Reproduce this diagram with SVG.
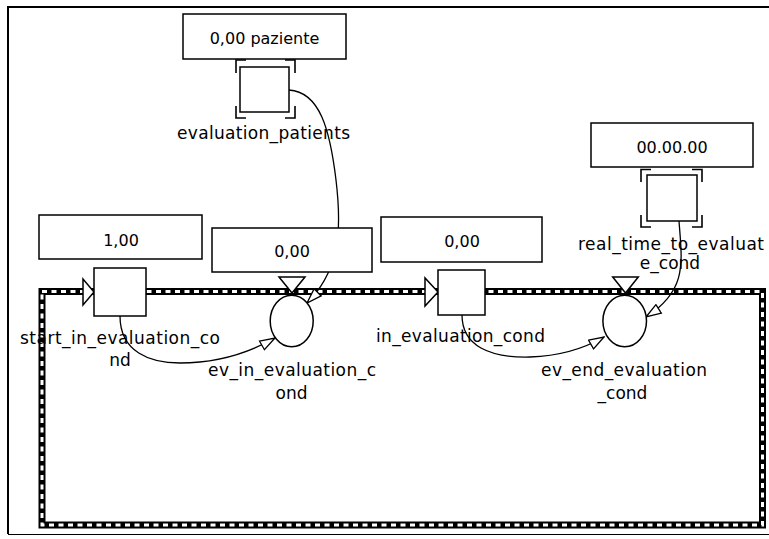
<svg xmlns="http://www.w3.org/2000/svg" width="769" height="539" viewBox="0 0 769 539">
<style>
.box{fill:#fff;stroke:#000;stroke-width:1.5}
.val{font-family:"DejaVu Sans",sans-serif;font-size:16px;fill:#000;text-anchor:middle}
.lbl{font-family:"DejaVu Sans",sans-serif;font-size:17px;fill:#000}
.mid{text-anchor:middle}
.con{fill:none;stroke:#000;stroke-width:1.3}
.brk{fill:none;stroke:#000;stroke-width:1.6}
</style>
<defs>
<marker id="ah" markerUnits="userSpaceOnUse" viewBox="0 0 17 12" refX="16" refY="6" markerWidth="17" markerHeight="12" orient="auto">
<path d="M1,1 L16,6 L1,11 Z" fill="#fff" stroke="#000" stroke-width="1.3"/>
</marker>
</defs>
<rect width="769" height="539" fill="#fff"/>
<g id="frame">
<path d="M8,534 L8,7 L769,7" fill="none" stroke="#000" stroke-width="2"/>
<path d="M8,534.5 L769,534.5" fill="none" stroke="#000" stroke-width="1"/>
</g>
<g id="flowline">
<rect x="42" y="291.5" width="720.5" height="233.5" fill="none" stroke="#000" stroke-width="7"/>
<rect x="42" y="291.5" width="720.5" height="233.5" fill="none" stroke="#fff" stroke-width="3" stroke-dasharray="5 4.5"/>
</g>
<g id="connectors">
<path class="con" d="M120,316 C120,352 150,363 180,363 C215,363 245,355 275,338" marker-end="url(#ah)"/>
<path class="con" d="M462,315 C462,346 490,358 530,357 C560,356 585,348 604,337" marker-end="url(#ah)"/>
<path class="con" d="M289,90 C320,92 330,130 336,180 C342,230 340,270 307,303" marker-end="url(#ah)"/>
<path class="con" d="M679,221 C682,262 688,290 646,317" marker-end="url(#ah)"/>
</g>
<g id="evaluation_patients">
<rect class="box" x="183" y="14" width="163" height="45"/>
<text class="val" x="264.5" y="44">0,00 paziente</text>
<path class="brk" d="M236,73 V60 H246 M285,60 H295 V73 M236,106 V118 H246 M285,118 H295 V106"/>
<rect class="box" x="240" y="67" width="49" height="45"/>
<text class="lbl" x="177" y="139" textLength="173" lengthAdjust="spacing">evaluation_patients</text>
</g>
<g id="start_in_evaluation_cond">
<rect class="box" x="39" y="215" width="163" height="44"/>
<text class="val" x="121" y="245.5">1,00</text>
<path class="box" d="M83,279 L83,305 L94,292 Z"/>
<rect class="box" x="94" y="268" width="52" height="48"/>
<text class="lbl" x="20" y="344" textLength="200" lengthAdjust="spacing">start_in_evaluation_co</text>
<text class="lbl mid" x="120" y="366">nd</text>
</g>
<g id="ev_in_evaluation_cond">
<rect class="box" x="212" y="228" width="160" height="44"/>
<text class="val" x="292" y="257">0,00</text>
<path class="box" d="M279,277 L305,277 L292,293 Z"/>
<ellipse class="box" cx="291.7" cy="321" rx="21.5" ry="25.8"/>
<text class="lbl" x="208" y="376" textLength="168" lengthAdjust="spacing">ev_in_evaluation_c</text>
<text class="lbl mid" x="291.5" y="399">ond</text>
</g>
<g id="in_evaluation_cond">
<rect class="box" x="381" y="217" width="161" height="45"/>
<text class="val" x="462" y="246.5">0,00</text>
<path class="box" d="M425,278 L425,306 L438,292 Z"/>
<rect class="box" x="438" y="270" width="47" height="45"/>
<text class="lbl" x="376" y="342" textLength="169" lengthAdjust="spacing">in_evaluation_cond</text>
</g>
<g id="ev_end_evaluation_cond">
<path class="box" d="M612.7,277 L638.3,277 L625.5,293 Z"/>
<ellipse class="box" cx="624.7" cy="321" rx="21.8" ry="25.8"/>
<text class="lbl" x="541" y="376" textLength="166" lengthAdjust="spacing">ev_end_evaluation</text>
<text class="lbl mid" x="622.5" y="399">_cond</text>
</g>
<g id="real_time_to_evaluate_cond">
<rect class="box" x="591" y="123" width="162" height="44"/>
<text class="val" x="672" y="153">00.00.00</text>
<path class="brk" d="M641,182 V169.5 H651 M692,169.5 H702 V182 M641,215 V227 H651 M692,227 H702 V215"/>
<rect class="box" x="647" y="175" width="50" height="46"/>
<text class="lbl" x="578" y="250" textLength="186" lengthAdjust="spacing">real_time_to_evaluat</text>
<text class="lbl mid" x="670" y="269">e_cond</text>
</g>
</svg>
